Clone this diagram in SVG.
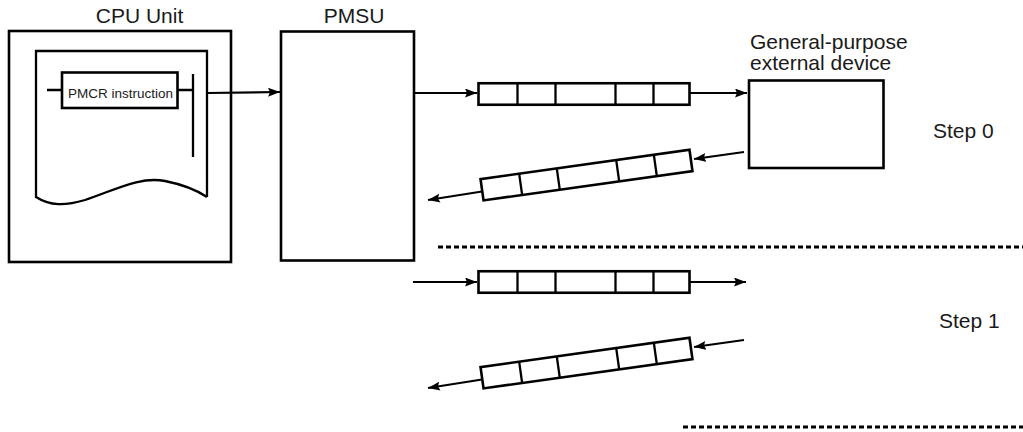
<svg xmlns="http://www.w3.org/2000/svg" width="1023" height="432" viewBox="0 0 1023 432">
<style>
  .box{fill:#fff;stroke:#000;stroke-width:2.6}
  .ln{fill:none;stroke:#000;stroke-width:2.3}
  .arr{fill:none;stroke:#000;stroke-width:2.2;marker-end:url(#ah)}
  .dash{fill:none;stroke:#000;stroke-width:2.8;stroke-dasharray:5 3}
  .lbl{font-family:"Liberation Sans",Arial,sans-serif;font-size:21px;fill:#1a1a1a}
  .sm{font-family:"Liberation Sans",Arial,sans-serif;font-size:13.5px;fill:#1a1a1a}
</style>
<defs>
  <marker id="ah" markerUnits="userSpaceOnUse" markerWidth="14" markerHeight="10" refX="12" refY="4.5" orient="auto">
    <path d="M0,0 L12,4.5 L0,9 L2,4.5 z" fill="#000"/>
  </marker>
  <g id="packet">
    <rect x="-106" y="-10.75" width="211" height="21.5" class="box"/>
    <path class="ln" d="M-67,-10.75V10.75M-29,-10.75V10.75M31,-10.75V10.75M69,-10.75V10.75"/>
  </g>
</defs>
<rect width="1023" height="432" fill="#fff"/>

<g id="cpu-unit">
  <text class="lbl" x="139.5" y="23" text-anchor="middle">CPU Unit</text>
  <rect class="box" x="9" y="31" width="222" height="231"/>
  <path class="ln" d="M207,197 V51 H36 V197 C50,206 65,206 85,200 C115,190 140,176 165,181 C185,185 198,191 207,197"/>
  <rect class="box" x="62" y="72.5" width="115.5" height="35.5"/>
  <text class="sm" x="68" y="98">PMCR instruction</text>
  <path class="ln" d="M47,90 H62 M177.5,90 H193 M193,74 V157"/>
</g>

<g id="pmsu">
  <text class="lbl" x="354" y="23" text-anchor="middle">PMSU</text>
  <rect class="box" x="281" y="31.5" width="133" height="229"/>
</g>

<g id="external-device">
  <text class="lbl" x="750" y="49">General-purpose</text>
  <text class="lbl" x="750" y="70">external device</text>
  <rect class="box" x="749" y="80.5" width="134.5" height="87.5"/>
</g>

<g id="step0-label"><text class="lbl" x="933" y="138">Step 0</text></g>
<g id="step1-label"><text class="lbl" x="939" y="328">Step 1</text></g>

<g id="packets">
  <use href="#packet" x="584.5" y="94"/>
  <use href="#packet" transform="translate(587,175) rotate(-8)"/>
  <use href="#packet" x="584.5" y="282"/>
  <use href="#packet" transform="translate(587,363) rotate(-8)"/>
</g>

<g id="connectors">
  <path class="arr" d="M208,93 L280,92"/>
  <path class="arr" d="M414,93 H477"/>
  <path class="arr" d="M690,93 H747"/>
  <path class="arr" d="M744,152 L694,159"/>
  <path class="arr" d="M482,191.5 L428,200"/>
  <path class="arr" d="M413,282 H477"/>
  <path class="arr" d="M690,282 H746"/>
  <path class="arr" d="M744,340 L694,347"/>
  <path class="arr" d="M482,379.5 L428,388"/>
  <path class="dash" d="M438,247 H1023"/>
  <path class="dash" d="M683,427 H1023"/>
</g>
</svg>
